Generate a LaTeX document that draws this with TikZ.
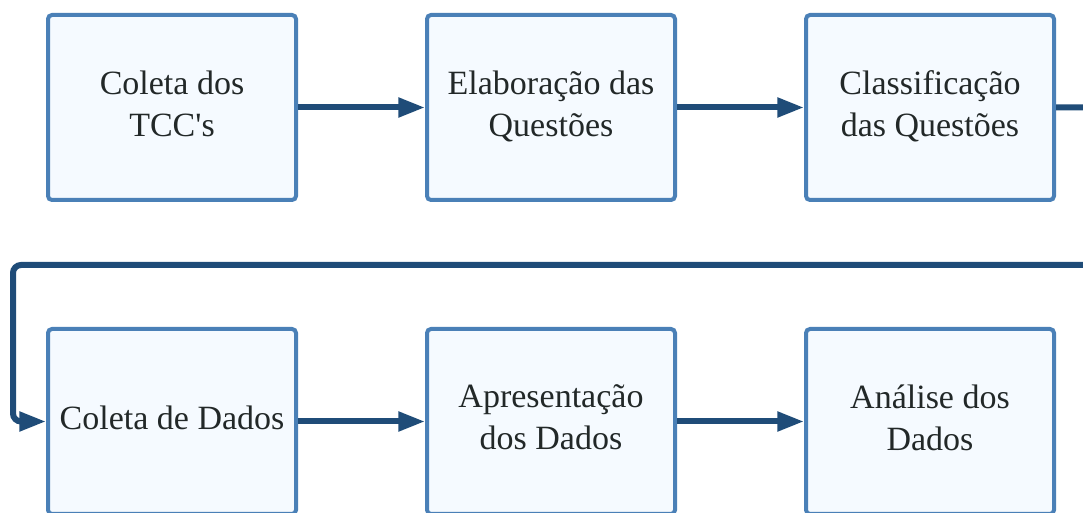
\documentclass[tikz,border=0pt]{standalone}
\usepackage{fontspec}
\setmainfont{Liberation Serif}
\usetikzlibrary{chains,arrows.meta}
\definecolor{bordaazul}{RGB}{74,128,183}
\definecolor{fundoazul}{RGB}{245,250,255}
\definecolor{setaazul}{RGB}{31,76,120}
\definecolor{textoescuro}{RGB}{34,40,40}

\begin{document}
\begin{tikzpicture}
  [ x=0.75pt, y=-0.75pt,
    on grid, node distance=284.25pt,
  every join/.style={seta}]
  \tikzset{
    base/.style={
      on grid, on chain,
      align=center,
    },
    etapa/.style={
      base,
      rectangle, rounded corners=3pt,
      draw=bordaazul, line width=3pt,
      fill=fundoazul,
      minimum width=186pt,
      minimum height=138.75pt,
      text depth=6pt,
      text=textoescuro,
      font=\fontsize{25.5}{31.5}\selectfont,
    },
    seta/.style={-{Triangle[length=20pt,width=14pt]}, draw=setaazul, line width=4.5pt},
  }

  \clip (0,0) rectangle (1083,513);

  \begin{scope}[start chain=linha1 going right]
    \node[etapa] (coleta) at (172,107.5) {Coleta dos\\TCC\textquotesingle s};
    \node[etapa, join] (elab) {Elaboração das\\Questões};
    \node[etapa, join] (classif) {Classificação\\das Questões};
  \end{scope}

  \begin{scope}[start chain=linha2 going right]
    \node[etapa] (dados) at (172,421.5) {Coleta de Dados};
    \node[etapa, join] (apres) {Apresentação\\dos Dados};
    \node[etapa, join] (analise) {Análise dos\\Dados};
  \end{scope}

  \draw[seta, rounded corners=6pt] (classif.east)
    -- ++(45,0) |- (13,265)
    |- (dados.west);
\end{tikzpicture}
\end{document}
